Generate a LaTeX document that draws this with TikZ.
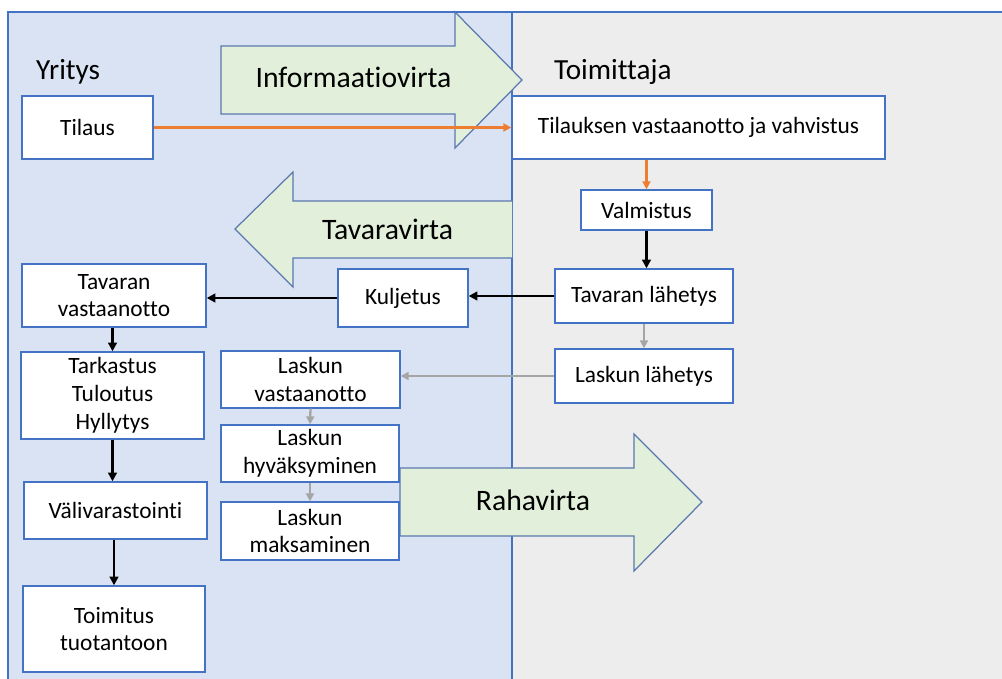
\documentclass[tikz,border=0pt]{standalone}
\usepackage{fontspec}
\setmainfont{Carlito}[Ligatures=NoCommon]
\usetikzlibrary{arrows.meta}

\definecolor{firmfill}{HTML}{DAE3F3}
\definecolor{suppfill}{HTML}{EDEDED}
\definecolor{edgeblue}{HTML}{4472C4}
\definecolor{flowfill}{HTML}{E2EFDA}
\definecolor{flowedge}{HTML}{5A78AE}
\definecolor{infoorange}{HTML}{ED7D31}
\definecolor{billgray}{HTML}{A5A5A5}

\begin{document}
\begin{tikzpicture}[
  x=0.02cm, y=-0.02cm,
  box/.style={draw=edgeblue, fill=white, line width=0.8pt, inner sep=1pt, align=center, font=\fontsize{13.3}{15.8}\selectfont},
  flow/.style={draw=flowedge, fill=flowfill, line width=0.7pt},
  flowtext/.style={anchor=base, font=\fontsize{16.9}{20}\selectfont},
  side/.style={anchor=base west, font=\fontsize{16.6}{20}\selectfont},
  goods/.style={-{Triangle[length=5pt, width=5pt]}, line width=1.5pt},
  order/.style={draw=infoorange, -{Triangle[length=4.5pt, width=4.5pt]}, line width=1.3pt},
  bill/.style={draw=billgray, -{Triangle[length=4.5pt, width=4.5pt]}, line width=1.3pt}
]
\useasboundingbox (0,0) rectangle (1002,679);

% the two sides
\fill[firmfill] (8,12) rectangle (512,690);
\fill[suppfill] (512,12) rectangle (1010,690);
\draw[edgeblue, line width=0.6pt] (8,690) -- (8,12) -- (1010,12);
\draw[edgeblue, line width=0.6pt] (512,12) -- (512,690);

\node[side] (yritys) at (30,80) {Yritys};
\node[side] (toimittaja) at (548,80) {Toimittaja};

% flows
\draw[flow] (221,46) -- (455,46) -- (455,12) -- (522,80) -- (455,148) -- (455,114) -- (221,114) -- cycle;
\draw[flow] (512,201) -- (293,201) -- (293,172) -- (235,229) -- (293,287) -- (293,258) -- (512,258);
\draw[flow] (400,468) -- (634,468) -- (634,434) -- (702,502) -- (634,571) -- (634,536) -- (400,536) -- cycle;
\node[flowtext] (info)  at (353.5,88) {Informaatiovirta};
\node[flowtext] (tavara) at (387.5,239) {Tavaravirta};
\node[flowtext] (raha)  at (533,510) {Rahavirta};

% supplier
\node[box, minimum width=7.46cm, minimum height=1.26cm] (vahvistus) at (698.5,127.5) {Tilauksen vastaanotto ja vahvistus};
\node[box, minimum width=2.62cm, minimum height=0.8cm] (valmistus) at (646.5,210) {Valmistus};
\node[box, minimum width=3.56cm, minimum height=1.08cm] (lahetys) at (644,296) {Tavaran lähetys};
\node[box, minimum width=3.56cm, minimum height=1.08cm] (laskulah) at (644,376) {Laskun lähetys};

% company
\node[box, minimum width=2.62cm, minimum height=1.26cm] (tilaus) at (87.5,127.5) {Tilaus};
\node[box, minimum width=2.6cm, minimum height=1.16cm] (kuljetus) at (403,298) {Kuljetus};
\node[box, minimum width=3.68cm, minimum height=1.26cm] (vastaanotto) at (114,295.5) {Tavaran\\vastaanotto};
\node[box, minimum width=3.66cm, minimum height=1.74cm] (tarkastus) at (112.5,395.5) {Tarkastus\\Tuloutus\\Hyllytys};
\node[box, minimum width=3.66cm, minimum height=1.14cm] (vali) at (115.5,510.5) {Välivarastointi};
\node[box, minimum width=3.64cm, minimum height=1.72cm] (toimitus) at (114,629) {Toimitus\\tuotantoon};
\node[box, minimum width=3.58cm, minimum height=1.14cm] (laskvast) at (310.5,379.5) {Laskun\\vastaanotto};
\node[box, minimum width=3.56cm, minimum height=1.14cm] (hyvaks) at (310,453.5) {Laskun\\hyväksyminen};
\node[box, minimum width=3.56cm, minimum height=1.16cm] (maksu) at (310,531) {Laskun\\maksaminen};

% connectors
\draw[order] (tilaus.east) -- (vahvistus.west);
\draw[order] (vahvistus.south -| valmistus.north) -- (valmistus.north);
\draw[goods] (valmistus.south) -- (valmistus.south |- lahetys.north);
\draw[bill] (lahetys.south) -- (laskulah.north);
\draw[goods] (lahetys.west) -- (lahetys.west -| kuljetus.east);
\draw[goods] (kuljetus.west) -- (kuljetus.west -| vastaanotto.east);
\draw[goods] (vastaanotto.south -| tarkastus.north) -- (tarkastus.north);
\draw[goods] (tarkastus.south) -- (tarkastus.south |- vali.north);
\draw[goods] (vali.south -| toimitus.north) -- (toimitus.north);
\draw[bill] (laskulah.west) -- (laskulah.west -| laskvast.east);
\draw[bill] (laskvast.south) -- (hyvaks.north);
\draw[bill] (hyvaks.south) -- (maksu.north);
\end{tikzpicture}
\end{document}
